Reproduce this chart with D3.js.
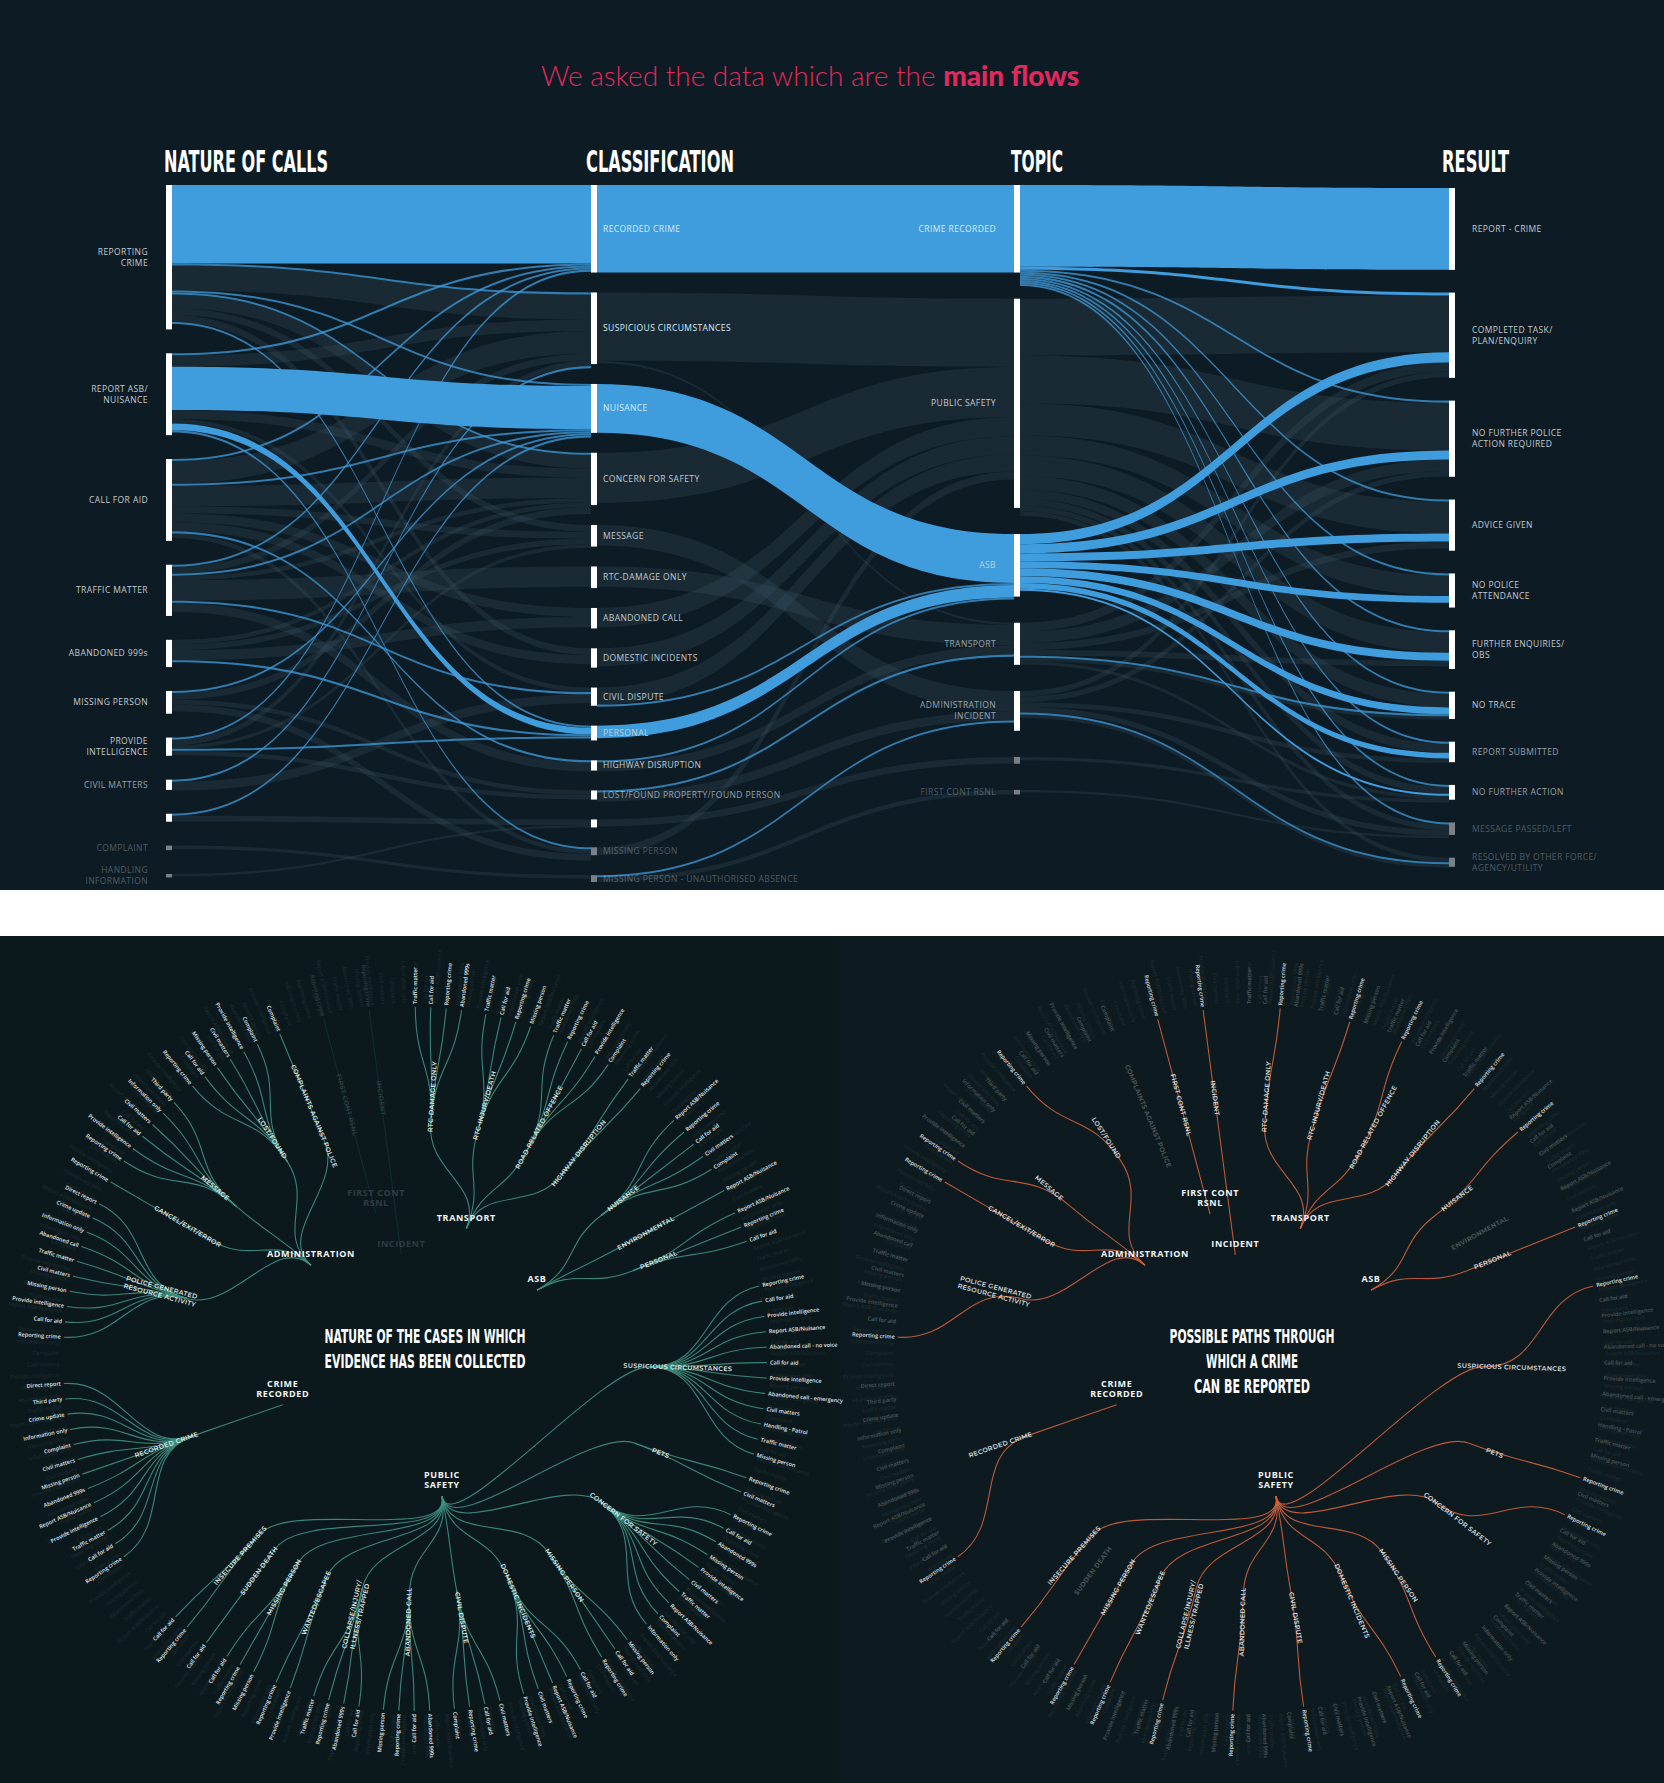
<!DOCTYPE html>
<html>
<head>
<meta charset="utf-8">
<script src="https://cdn.jsdelivr.net/npm/d3@7"></script>
<style>
  body { margin: 0; background: #fff; }
  svg { display: block; }
</style>
</head>
<body>
<svg id="chart" width="1664" height="1783"></svg>
<script>
// ---- sankey data: node names and sizes per column ----
var natureNames = ["REPORTING\nCRIME", "REPORT ASB/\nNUISANCE", "CALL FOR AID", "TRAFFIC MATTER", "ABANDONED 999s",
  "MISSING PERSON", "PROVIDE\nINTELLIGENCE", "CIVIL MATTERS", "", "COMPLAINT", "HANDLING\nINFORMATION"];
var natureValues = [127, 72, 72, 45, 24, 20, 16, 9, 7, 4, 3];

var classNames = ["RECORDED CRIME", "SUSPICIOUS CIRCUMSTANCES", "NUISANCE", "CONCERN FOR SAFETY", "MESSAGE",
  "RTC-DAMAGE ONLY", "ABANDONED CALL", "DOMESTIC INCIDENTS", "CIVIL DISPUTE", "PERSONAL", "HIGHWAY DISRUPTION",
  "LOST/FOUND PROPERTY/FOUND PERSON", "", "MISSING PERSON", "MISSING PERSON - UNAUTHORISED ABSENCE"];
var classValues = [77, 63, 43, 46, 19, 19, 18, 17, 16, 13, 9, 8, 7, 7, 6];

var topicNames = ["CRIME RECORDED", "PUBLIC SAFETY", "ASB", "TRANSPORT", "ADMINISTRATION\nINCIDENT", "", "FIRST CONT RSNL"];
var topicValues = [77, 184, 55, 37, 35, 6, 4];

var resultNames = ["REPORT - CRIME", "COMPLETED TASK/\nPLAN/ENQUIRY", "NO FURTHER POLICE\nACTION REQUIRED", "ADVICE GIVEN",
  "NO POLICE\nATTENDANCE", "FURTHER ENQUIRIES/\nOBS", "NO TRACE", "REPORT SUBMITTED", "NO FURTHER ACTION",
  "MESSAGE PASSED/LEFT", "RESOLVED BY OTHER FORCE/\nAGENCY/UTILITY"];
var resultValues = [72, 75, 67, 45, 30, 34, 24, 18, 13, 11, 8];

// links: [source index, target index, value, kind] kind: f = faint, t = thin blue, h = highlighted
var natureToClass = [
  [0,0,69,"h"],[1,2,38,"h"],[1,9,6,"h"],
  [0,2,1.8,"t"],[0,1,1.8,"t"],[0,3,1.8,"t"],[0,9,1.8,"t"],[1,0,1.8,"t"],[1,13,1.8,"t"],[2,0,1.8,"t"],[2,2,1.8,"t"],
  [2,10,1.8,"t"],[3,0,1.8,"t"],[3,2,1.8,"t"],[3,8,1.8,"t"],[4,9,1.8,"t"],[5,2,1.8,"t"],[6,9,1.8,"t"],[6,0,1.8,"t"],
  [7,1,1.8,"t"],[8,2,1.8,"t"],
  [0,1,22,"f"],[0,3,12,"f"],[0,4,6,"f"],[0,7,6,"f"],[1,1,10,"f"],[1,3,8,"f"],[1,8,4,"f"],
  [2,1,20,"f"],[2,3,18,"f"],[2,6,8,"f"],[2,7,8,"f"],[2,4,6,"f"],[2,13,4,"f"],
  [3,5,18,"f"],[3,10,8,"f"],[3,1,6,"f"],[3,3,4,"f"],[4,6,9,"f"],[4,4,5,"f"],[4,3,4,"f"],
  [5,3,6,"f"],[5,13,6,"f"],[5,11,4,"f"],[6,1,5,"f"],[6,11,4,"f"],[6,4,3,"f"],[7,8,8,"f"],
  [8,12,5,"f"],[9,14,3,"f"],[10,12,2,"f"]
];
var classToTopic = [
  [0,0,77,"h"],[2,2,43,"h"],[9,2,11,"h"],
  [10,2,1.8,"t"],[11,3,1.8,"t"],[14,4,1.8,"t"],[8,2,1.8,"t"],
  [1,1,60,"f"],[1,3,2,"f"],[3,1,44,"f"],[4,4,18,"f"],[5,3,18,"f"],[6,1,17,"f"],[7,1,16,"f"],[8,1,15,"f"],
  [10,3,8,"f"],[11,4,8,"f"],[12,5,6,"f"],[13,1,7,"f"],[14,6,4,"f"]
];
var topicToResult = [
  [0,0,72,"h"],[0,1,2.5,"h"],[2,1,9,"h"],[2,2,8,"h"],[2,3,7,"h"],[2,4,6,"h"],[2,5,7,"h"],[2,6,6,"h"],[2,7,5,"h"],[2,8,1.8,"h"],
  [0,2,1.8,"t"],[0,3,1.8,"t"],[0,4,1.8,"t"],[0,5,1.8,"t"],[0,6,1.8,"t"],[0,7,1.8,"t"],[0,9,1.8,"t"],[0,8,1.8,"t"],
  [3,6,1.8,"t"],[4,10,1.8,"t"],
  [1,1,50,"f"],[1,2,42,"f"],[1,3,28,"f"],[1,4,18,"f"],[1,5,18,"f"],[1,6,12,"f"],[1,7,8,"f"],[1,8,6,"f"],[1,9,5,"f"],[1,10,4,"f"],
  [3,1,8,"f"],[3,2,10,"f"],[3,3,6,"f"],[3,5,5,"f"],[3,6,3,"f"],[3,8,3,"f"],
  [4,1,5,"f"],[4,2,5,"f"],[4,9,5,"f"],[4,7,4,"f"],[4,10,3,"f"],[5,8,3,"f"],[6,9,2,"f"]
];

// ---- radial tree data: [topic, subcategory, leaves] ----
var treeBranches = [
  ["CRIME\nRECORDED", "RECORDED CRIME", ["Reporting crime","Call for aid","Traffic matter","Provide intelligence","Report ASB/Nuisance","Abandoned 999s","Missing person","Civil matters","Complaint","Information only","Crime update","Third party","Direct report"]],
  ["ADMINISTRATION", "POLICE GENERATED\nRESOURCE ACTIVITY", ["Reporting crime","Call for aid","Provide intelligence","Missing person","Civil matters","Traffic matter","Abandoned call","Information only","Crime update","Direct report"]],
  ["ADMINISTRATION", "CANCEL/EXIT/ERROR", ["Reporting crime"]],
  ["ADMINISTRATION", "MESSAGE", ["Reporting crime","Provide intelligence","Call for aid","Civil matters","Information only","Third party"]],
  ["ADMINISTRATION", "LOST/FOUND", ["Reporting crime","Call for aid","Missing person","Civil matters","Provide intelligence","Complaint"]],
  ["ADMINISTRATION", "COMPLAINTS AGAINST POLICE", ["Complaint"]],
  ["FIRST CONT\nRSNL", "FIRST CONT RSNL", ["Reporting crime"]],
  ["INCIDENT", "INCIDENT", ["Reporting crime"]],
  ["TRANSPORT", "RTC-DAMAGE ONLY", ["Traffic matter","Call for aid","Reporting crime","Abandoned 999s"]],
  ["TRANSPORT", "RTC-INJURY/DEATH", ["Traffic matter","Call for aid","Reporting crime","Missing person"]],
  ["TRANSPORT", "ROAD RELATED OFFENCE", ["Traffic matter","Reporting crime","Call for aid","Provide intelligence","Complaint"]],
  ["TRANSPORT", "HIGHWAY DISRUPTION", ["Traffic matter","Reporting crime"]],
  ["ASB", "NUISANCE", ["Report ASB/Nuisance","Reporting crime","Call for aid","Civil matters","Complaint"]],
  ["ASB", "ENVIRONMENTAL", ["Report ASB/Nuisance"]],
  ["ASB", "PERSONAL", ["Report ASB/Nuisance","Reporting crime","Call for aid"]],
  ["PUBLIC\nSAFETY", "SUSPICIOUS CIRCUMSTANCES", ["Reporting crime","Call for aid","Provide intelligence","Report ASB/Nuisance","Abandoned call - no voice","Call for aid","Provide intelligence","Abandoned call - emergency","Civil matters","Handling - Patrol","Traffic matter","Missing person"]],
  ["PUBLIC\nSAFETY", "PETS", ["Reporting crime","Civil matters"]],
  ["PUBLIC\nSAFETY", "CONCERN FOR SAFETY", ["Reporting crime","Call for aid","Abandoned 999s","Missing person","Provide intelligence","Civil matters","Traffic matter","Report ASB/Nuisance","Complaint","Information only"]],
  ["PUBLIC\nSAFETY", "MISSING PERSON", ["Missing person","Call for aid","Reporting crime"]],
  ["PUBLIC\nSAFETY", "DOMESTIC INCIDENTS", ["Call for aid","Reporting crime","Report ASB/Nuisance","Civil matters","Provide intelligence"]],
  ["PUBLIC\nSAFETY", "CIVIL DISPUTE", ["Civil matters","Call for aid","Reporting crime","Complaint"]],
  ["PUBLIC\nSAFETY", "ABANDONED CALL", ["Abandoned 999s","Call for aid","Reporting crime","Missing person"]],
  ["PUBLIC\nSAFETY", "COLLAPSE/INJURY/\nILLNESS/TRAPPED", ["Call for aid","Abandoned 999s","Reporting crime","Traffic matter"]],
  ["PUBLIC\nSAFETY", "WANTED/ESCAPEE", ["Provide intelligence","Reporting crime"]],
  ["PUBLIC\nSAFETY", "MISSING PERSON", ["Missing person","Reporting crime","Call for aid"]],
  ["PUBLIC\nSAFETY", "SUDDEN DEATH", ["Call for aid"]],
  ["PUBLIC\nSAFETY", "INSECURE PREMISES", ["Reporting crime","Call for aid"]]
];
var fadedTopics = ["FIRST CONT\nRSNL", "INCIDENT"];
var ringLabels = ["Reporting crime","Call for aid","Report ASB/Nuisance","Traffic matter","Abandoned 999s","Missing person",
  "Provide intelligence","Civil matters","Complaint","Information only"];

// ---------------------------------------------------------------
var svg = d3.select("#chart");
var W = 1664, H = 1783;

svg.append("rect").attr("width", W).attr("height", 890).attr("fill", "#0d1b24");
svg.append("rect").attr("y", 936).attr("width", 839).attr("height", H - 936).attr("fill", "#0b191d");
svg.append("rect").attr("x", 839).attr("y", 936).attr("width", W - 839).attr("height", H - 936).attr("fill", "#0d1a1f");

var title = svg.append("text").attr("x", 810).attr("y", 86).attr("text-anchor", "middle")
  .attr("font-family", "Lato, 'Open Sans', sans-serif").attr("font-size", 28).attr("fill", "#e2285e");
title.append("tspan").attr("font-weight", 300).text("We asked the data which are the ");
title.append("tspan").attr("font-weight", 900).text("main flows");

var condensed = "'Liberation Sans Narrow', 'DejaVu Sans Condensed', sans-serif";

// ---- sankey layout (hand rolled, d3 scale for value -> px) ----
var k = d3.scaleLinear().domain([0, 1]).range([0, 1.137]);
var top0 = 185, barW = 6;
var columns = [
  { head: "NATURE OF CALLS", hx: 164, hw: 164, x: 166, pad: 21, names: natureNames, values: natureValues, side: "left" },
  { head: "CLASSIFICATION", hx: 586, hw: 148, x: 591, pad: 17.5, names: classNames, values: classValues, side: "inside" },
  { head: "TOPIC", hx: 1011, hw: 52, x: 1014, pad: 23, names: topicNames, values: topicValues, side: "left" },
  { head: "RESULT", hx: 1442, hw: 67, x: 1449, pad: 20, top: 3, names: resultNames, values: resultValues, side: "right" }
];
columns.forEach(function (c) {
  var y = top0 + (c.top || 0);
  c.nodes = c.names.map(function (n, i) {
    var h = k(c.values[i]);
    var node = { name: n, x: c.x, y0: y, y1: y + h, out: [], inn: [], idx: i };
    y += h + k(c.pad);
    return node;
  });
});

var links = [];
[natureToClass, classToTopic, topicToResult].forEach(function (tbl, ci) {
  tbl.forEach(function (d) {
    var l = { s: columns[ci].nodes[d[0]], t: columns[ci + 1].nodes[d[1]], w: k(d[2]), kind: d[3] };
    l.s.out.push(l); l.t.inn.push(l); links.push(l);
  });
});
columns.forEach(function (c) {
  c.nodes.forEach(function (n) {
    var y = n.y0;
    n.out.sort(function (a, b) { return a.t.y0 - b.t.y0; }).forEach(function (l) { l.sy = y; y += l.w; });
    y = n.y0;
    n.inn.sort(function (a, b) { return a.s.y0 - b.s.y0; }).forEach(function (l) { l.ty = y; y += l.w; });
  });
});

function ribbon(l) {
  var x0 = l.s.x + barW, x1 = l.t.x, xm = (x0 + x1) / 2;
  var p = d3.path();
  p.moveTo(x0, l.sy);
  p.bezierCurveTo(xm, l.sy, xm, l.ty, x1, l.ty);
  p.lineTo(x1, l.ty + l.w);
  p.bezierCurveTo(xm, l.ty + l.w, xm, l.sy + l.w, x0, l.sy + l.w);
  p.closePath();
  return p.toString();
}

var order = { f: 0, t: 1, h: 2 };
svg.append("g").selectAll("path")
  .data(links.slice().sort(function (a, b) { return order[a.kind] - order[b.kind]; }))
  .join("path")
  .attr("d", ribbon)
  .attr("fill", function (d) { return d.kind === "f" ? "#3a5262" : "#3f9ddd"; })
  .attr("fill-opacity", function (d) { return d.kind === "f" ? 0.28 : d.kind === "t" ? 0.75 : 1; });

// bars
columns.forEach(function (c, ci) {
  var n = c.nodes.length;
  svg.append("g").selectAll("rect").data(c.nodes).join("rect")
    .attr("x", c.x).attr("y", function (d) { return d.y0; })
    .attr("width", barW).attr("height", function (d) { return Math.max(3, d.y1 - d.y0); })
    .attr("fill", "#ffffff")
    .attr("opacity", function (d, i) { return i >= n - 2 ? 0.45 : 1; });

  svg.append("text").attr("x", c.hx).attr("y", 172).attr("fill", "#ffffff")
    .attr("font-family", condensed).attr("font-weight", "bold").attr("font-size", 30)
    .attr("textLength", c.hw).attr("lengthAdjust", "spacingAndGlyphs").text(c.head);

  var lx = c.side === "left" ? c.x - 18 : c.side === "right" ? c.x + 23 : c.x + 12;
  var anchor = c.side === "left" ? "end" : "start";
  var lab = svg.append("g").selectAll("text").data(c.nodes).join("text")
    .attr("text-anchor", anchor)
    .attr("font-family", "'Open Sans', sans-serif").attr("font-size", 8.5).attr("letter-spacing", 0.4)
    .attr("fill", function (d) { return (ci === 1 && d.idx <= 2) || (ci === 2 && d.idx === 0) ? "#d6ecfa" : "#c3ccd2"; })
    .attr("opacity", function (d, i) { return i >= n - 2 ? 0.35 : i >= n - 4 ? 0.75 : 1; });
  lab.each(function (d) {
    var lines = d.name.split("\n");
    var cy = (d.y0 + d.y1) / 2 - (lines.length - 1) * 5.5 + 3;
    d3.select(this).selectAll("tspan").data(lines).join("tspan")
      .attr("x", lx).attr("y", function (s, i) { return cy + i * 11; }).text(function (s) { return s; });
  });
});

// white separator band
svg.append("rect").attr("y", 890).attr("width", W).attr("height", 46).attr("fill", "#ffffff");

// ---- radial trees ----
function buildRoot() {
  var topics = [];
  treeBranches.forEach(function (b) {
    var t = topics.find(function (x) { return x.name === b[0]; });
    if (!t) { t = { name: b[0], children: [] }; topics.push(t); }
    t.children.push({ name: b[1], children: b[2].map(function (l) { return { name: l }; }) });
  });
  return d3.hierarchy({ name: "root", children: topics });
}

var R1 = 140, R2 = 235, R3 = 352;
var topicRadius = { "FIRST CONT\nRSNL": 150, "INCIDENT": 105 };
var startAngle = 4.05;

function drawTree(cx, cy, mode) {
  var root = buildRoot();
  d3.cluster().size([2 * Math.PI * 0.985, 1])
    .separation(function (a, b) {
      if (a.parent === b.parent) return 1;
      if (a.parent.parent === b.parent.parent) return 1.6;
      return 3;
    })(root);
  root.each(function (d) {
    d.a = (d.x + startAngle) % (2 * Math.PI);
    d.r = [0, R1, R2, R3][d.depth];
    if (d.depth === 1 && topicRadius[d.data.name]) d.r = topicRadius[d.data.name];
  });
  var g = svg.append("g").attr("transform", "translate(" + cx + "," + cy + ")");
  function pt(a, r) { return [r * Math.sin(a), -r * Math.cos(a)]; }
  function rot(a) { var deg = a * 180 / Math.PI - 90; return a > Math.PI ? deg + 180 : deg; }

  // faint ring of all possible call types
  var ringN = 210;
  var ring = d3.range(ringN).map(function (i) { return { a: i / ringN * 2 * Math.PI, name: ringLabels[i % ringLabels.length] }; });
  g.append("g").selectAll("text").data(ring).join("text")
    .attr("transform", function (d) {
      var p = pt(d.a, R3 + 4);
      return "translate(" + p + ") rotate(" + rot(d.a) + ")";
    })
    .attr("text-anchor", function (d) { return d.a > Math.PI ? "end" : "start"; })
    .attr("dy", "0.32em").attr("font-family", "'Open Sans', sans-serif").attr("font-size", 5.5)
    .attr("fill", "#7b8a8e").attr("opacity", 0.18).text(function (d) { return d.name; });

  var isFaded = function (d) {
    var t = d.depth === 1 ? d : d.depth === 2 ? d.parent : d.depth === 3 ? d.parent.parent : null;
    return t && fadedTopics.indexOf(t.data.name) >= 0;
  };
  var isHot = function (d) {
    if (d.depth === 3) return d.data.name === "Reporting crime";
    return d.leaves().some(function (l) { return l.data.name === "Reporting crime"; });
  };

  var lr = d3.linkRadial().angle(function (d) { return d.a; }).radius(function (d) { return d.r; });
  var lnk = root.links().filter(function (l) { return l.source.depth > 0; });
  if (mode === "right") lnk = lnk.filter(function (l) { return isHot(l.target); });
  g.append("g").selectAll("path").data(lnk).join("path")
    .attr("d", lr).attr("fill", "none")
    .attr("stroke", mode === "left" ? "#3f9180" : "#d0603c")
    .attr("stroke-width", 1.1)
    .attr("opacity", function (l) { return mode === "left" && isFaded(l.target) ? 0.15 : 0.9; });

  // leaf labels
  g.append("g").selectAll("text").data(root.leaves()).join("text")
    .attr("transform", function (d) { return "translate(" + pt(d.a, d.r + 3) + ") rotate(" + rot(d.a) + ")"; })
    .attr("text-anchor", function (d) { return d.a > Math.PI ? "end" : "start"; })
    .attr("dy", "0.32em").attr("font-family", "'Open Sans', sans-serif").attr("font-weight", 600).attr("font-size", 5.5)
    .attr("fill", "#eef4f4")
    .attr("opacity", function (d) {
      if (mode === "left") return isFaded(d) ? 0.15 : 0.95;
      return isHot(d) ? 0.9 : 0.25;
    })
    .text(function (d) { return d.data.name; });

  // subcategory labels
  var sub = g.append("g").selectAll("text").data(root.descendants().filter(function (d) { return d.depth === 2; })).join("text")
    .attr("transform", function (d) { return "translate(" + pt(d.a, d.r + 28) + ") rotate(" + rot(d.a) + ")"; })
    .attr("text-anchor", "middle").attr("font-family", "Montserrat, 'Open Sans', sans-serif")
    .attr("font-weight", 600).attr("font-size", 6.5).attr("letter-spacing", 0.3).attr("fill", "#e9f0f0")
    .attr("opacity", function (d) {
      if (mode === "left") return isFaded(d) ? 0.15 : 0.95;
      return isHot(d) ? 0.9 : 0.3;
    });
  sub.each(function (d) {
    var lines = d.data.name.split("\n");
    d3.select(this).selectAll("tspan").data(lines).join("tspan")
      .attr("x", 0).attr("y", function (s, i) { return (i - (lines.length - 1) / 2) * 8 + 2; }).text(function (s) { return s; });
  });

  // topic labels
  var tl = g.append("g").selectAll("text").data(root.children).join("text")
    .attr("text-anchor", "middle").attr("font-family", "'Open Sans', sans-serif").attr("font-weight", 700)
    .attr("font-size", 9).attr("letter-spacing", 0.6).attr("fill", "#f2f6f6")
    .attr("opacity", function (d) { return mode === "left" && isFaded(d) ? 0.15 : 1; });
  tl.each(function (d) {
    var p = pt(d.a, d.r);
    var lines = d.data.name.split("\n");
    d3.select(this).selectAll("tspan").data(lines).join("tspan")
      .attr("x", p[0]).attr("y", function (s, i) { return p[1] + (i - lines.length) * 10 + 2; })
      .text(function (s) { return s; });
  });
}

drawTree(415, 1359, "left");
drawTree(1249, 1359, "right");

function centerText(cx, lines, widths) {
  svg.append("g").selectAll("text").data(lines).join("text")
    .attr("x", cx).attr("y", function (d, i) { return 1343 + i * 25; })
    .attr("text-anchor", "middle").attr("fill", "#ffffff")
    .attr("font-family", condensed).attr("font-weight", "bold").attr("font-size", 20)
    .attr("textLength", function (d, i) { return widths[i]; }).attr("lengthAdjust", "spacingAndGlyphs")
    .text(function (d) { return d; });
}
centerText(425, ["NATURE OF THE CASES IN WHICH", "EVIDENCE HAS BEEN COLLECTED"], [201, 201]);
centerText(1252, ["POSSIBLE PATHS THROUGH", "WHICH A CRIME", "CAN BE REPORTED"], [165, 92, 116]);
</script>
</body>
</html>
